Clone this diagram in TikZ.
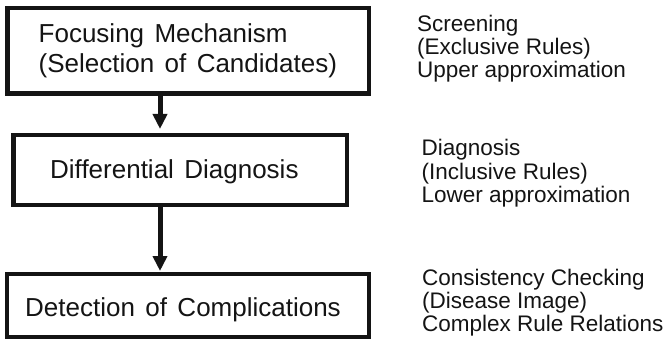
\documentclass[tikz,border=0pt]{standalone}
\usepackage{fontspec}
\setmainfont{Liberation Sans}
\usetikzlibrary{arrows.meta}
\newcommand\lfont{\fontsize{26}{30}\selectfont\spaceskip=0.4em\relax}
\newcommand\rfont{\fontsize{22.5}{26}\selectfont}
\definecolor{ink}{HTML}{141414}
\tikzset{
  box/.style={draw=ink, line width=4.3pt, rectangle, inner sep=0pt, outer sep=0pt},
  lt/.style={anchor=base west, inner sep=0pt, font=\lfont, text=ink},
  rt/.style={anchor=base west, inner sep=0pt, font=\rfont, text=ink},
  arr/.style={draw=ink, line width=5pt, -{Triangle[length=15pt,width=14pt]}},
}
\begin{document}
\begin{tikzpicture}[x=1pt,y=-1pt]
\useasboundingbox (0,0) rectangle (671,347);
% boxes
\node[box, minimum width=361.5pt, minimum height=85.5pt] (b1) at (188.25,50.75) {};
\node[box, minimum width=333.5pt, minimum height=70pt] (b2) at (180.25,170) {};
\node[box, minimum width=362pt, minimum height=63pt] (b3) at (188,305.5) {};
% box texts
\node[lt] (t1a) at (38.5,42.3) {Focusing Mechanism};
\node[lt] (t1b) at (38.5,72.3) {(Selection of Candidates)};
\node[lt] (t2) at (50,178.3) {Differential Diagnosis};
\node[lt] (t3) at (25,316) {Detection of Complications};
% connectors
\coordinate (ax) at (160,0);
\draw[arr, shorten >=6pt] (b1.south -| ax) -- (b2.north -| ax);
\draw[arr, shorten >=3pt] (b2.south -| ax) -- (b3.north -| ax);
% right texts
\node[rt] (r1a) at (417,31.3) {Screening};
\node[rt] (r1b) at (417,54.6) {(Exclusive Rules)};
\node[rt] (r1c) at (417,78) {Upper approximation};
\node[rt] (r2a) at (421.5,156) {Diagnosis};
\node[rt] (r2b) at (421.5,179.3) {(Inclusive Rules)};
\node[rt] (r2c) at (421.5,202.7) {Lower approximation};
\node[rt] (r3a) at (422,285) {Consistency Checking};
\node[rt] (r3b) at (422,308.3) {(Disease Image)};
\node[rt] (r3c) at (422,331.7) {Complex Rule Relations};
\end{tikzpicture}
\end{document}
